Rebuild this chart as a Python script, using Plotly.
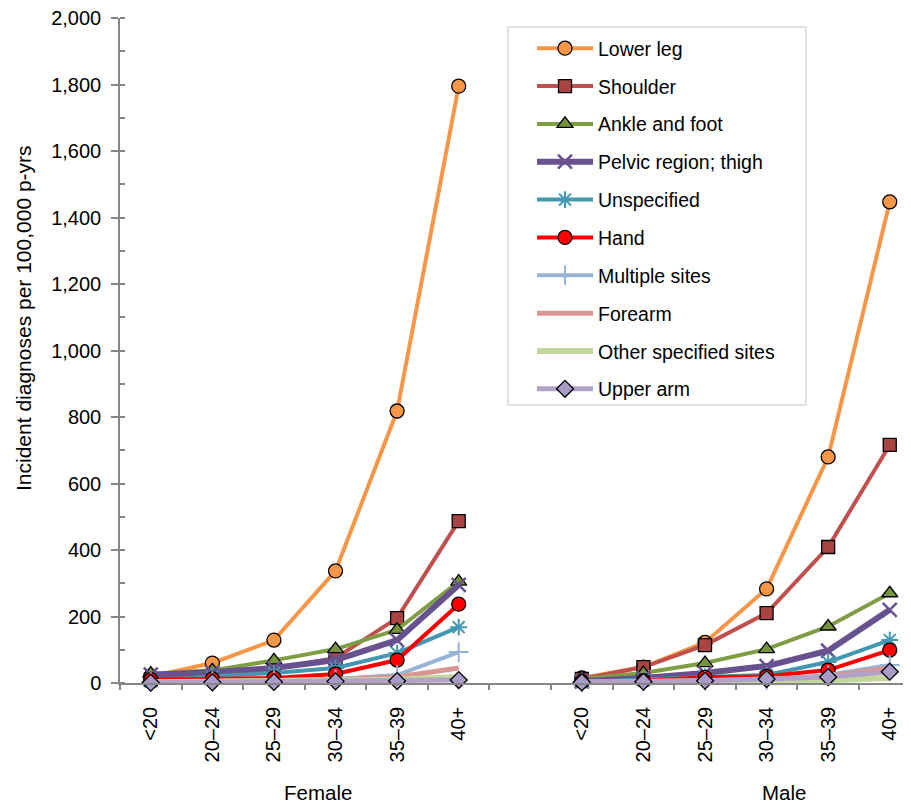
import plotly.graph_objects as go

age_groups = ["<20", "20\u201324", "25\u201329", "30\u201334", "35\u201339", "40+"]
sexes = ["Female", "Male"]

series_names = ["Lower leg", "Shoulder", "Ankle and foot", "Pelvic region; thigh",
                "Unspecified", "Hand", "Multiple sites", "Forearm",
                "Other specified sites", "Upper arm"]

female_lower_leg = [20, 60, 129, 337, 818, 1795]
female_shoulder = [10, 22, 42, 75, 195, 487]
female_ankle = [28, 38, 68, 102, 160, 305]
female_pelvic = [25, 32, 45, 69, 129, 295]
female_unspecified = [4, 20, 30, 45, 90, 168]
female_hand = [10, 12, 15, 27, 69, 237]
female_multiple = [3, 5, 8, 12, 24, 93]
female_forearm = [2, 4, 7, 10, 18, 45]
female_other = [2, 3, 4, 6, 10, 18]
female_upper_arm = [1, 2, 3, 5, 6, 9]

male_lower_leg = [15, 48, 122, 283, 680, 1447]
male_shoulder = [12, 48, 114, 210, 409, 716]
male_ankle = [12, 30, 60, 102, 170, 270]
male_pelvic = [5, 15, 30, 51, 97, 220]
male_unspecified = [3, 9, 18, 24, 63, 129]
male_hand = [4, 7, 17, 20, 39, 99]
male_multiple = [2, 4, 6, 9, 24, 54]
male_forearm = [2, 4, 6, 10, 20, 45]
male_other = [1, 2, 3, 5, 8, 15]
male_upper_arm = [2, 4, 7, 12, 18, 34]

female = [female_lower_leg, female_shoulder, female_ankle, female_pelvic, female_unspecified,
          female_hand, female_multiple, female_forearm, female_other, female_upper_arm]
male = [male_lower_leg, male_shoulder, male_ankle, male_pelvic, male_unspecified,
        male_hand, male_multiple, male_forearm, male_other, male_upper_arm]

line_colors = ["#F79646", "#C0504D", "#7F9E43", "#67518F", "#4298B0",
               "#FF0000", "#95B3D7", "#D99694", "#C3D69B", "#B3A2C7"]
line_widths = [4, 4, 4, 6, 4, 4, 4, 5, 6, 5]
markers = [
    dict(symbol="circle", size=14, color="#F79646", line=dict(color="black", width=1.3)),
    dict(symbol="square", size=13, color="#A84542", line=dict(color="black", width=1.3)),
    dict(symbol="triangle-up", size=14, color="#77933C", line=dict(color="black", width=1.3)),
    dict(symbol="x-thin-open", size=14, color="#67518F", line=dict(color="#67518F", width=2.5)),
    dict(symbol="asterisk-open", size=14, color="#4298B0", line=dict(color="#4298B0", width=2)),
    dict(symbol="circle", size=14, color="#FF0000", line=dict(color="black", width=1.3)),
    dict(symbol="cross-thin-open", size=14, color="#95B3D7", line=dict(color="#95B3D7", width=2)),
    None,
    None,
    dict(symbol="diamond", size=13, color="#A99BC8", line=dict(color="black", width=1.3)),
]

# x positions: female categories 0-5, an empty slot at 6, male categories 7-12
n = len(age_groups)
x_pos = list(range(n)) + [n] + [n + 1 + i for i in range(n)]
tick_text = age_groups + [""] + age_groups

fig = go.Figure()
for i, name in enumerate(series_names):
    y = female[i] + [None] + male[i]
    mode = "lines+markers" if markers[i] is not None else "lines"
    kw = dict(marker=markers[i]) if markers[i] is not None else {}
    fig.add_trace(go.Scatter(
        x=x_pos, y=y, name=name, mode=mode, connectgaps=False,
        line=dict(color=line_colors[i], width=line_widths[i]),
        legendgroup=name, cliponaxis=False, **kw))

# page body has an 8px margin; figure placed at (8, 8) in the window
OFF = 8
PL, PT, PW, PH = 120, 18, 791, 665  # plot area in window pixels
spacing = PW / 61.58


def px_x(wx):
    return (wx - PL) / PW


def px_y(wy):
    return 1 - (wy - PT) / PH


fig.update_layout(
    width=911 - OFF, height=806 - OFF,
    margin=dict(l=PL - OFF, r=0, t=PT - OFF, b=(806 - OFF) - (PT - OFF + PH)),
    paper_bgcolor="white", plot_bgcolor="white",
    font=dict(family="Liberation Sans, Arial, sans-serif", size=20, color="black"),
    showlegend=True,
    legend=dict(
        x=px_x(532), y=px_y(29), xanchor="left", yanchor="top",
        bgcolor="rgba(0,0,0,0)", borderwidth=0,
        font=dict(size=19.5, color="black"),
        itemwidth=56, tracegroupgap=9.5,
        itemclick=False, itemdoubleclick=False,
    ),
    xaxis=dict(
        range=[-0.5, -0.5 + spacing],
        tickmode="array", tickvals=x_pos, ticktext=tick_text,
        tickangle=-90, ticks="", ticklabelstandoff=14,
        showline=True, linecolor="#868686", linewidth=1.5,
        showgrid=False, zeroline=False,
        minor=dict(tick0=0.5, dtick=1, ticks="outside", ticklen=5,
                   tickcolor="#868686", tickwidth=1.5, showgrid=False),
        tickfont=dict(size=20),
    ),
    yaxis=dict(
        range=[0, 2000], tickmode="linear", tick0=0, dtick=200,
        tickformat=",d", ticks="outside", ticklen=7, tickcolor="#868686", tickwidth=1.5,
        ticklabelstandoff=6, ticklabeloverflow="allow",
        showline=True, linecolor="#868686", linewidth=1.5,
        showgrid=False, zeroline=False,
        minor=dict(dtick=100, ticks="inside", ticklen=5, tickcolor="#868686",
                   tickwidth=1.5, showgrid=False),
        tickfont=dict(size=20),
    ),
)

# legend frame
fig.add_shape(type="rect", xref="paper", yref="paper",
              x0=px_x(508), x1=px_x(806), y0=px_y(405), y1=px_y(27),
              fillcolor="white", line=dict(color="#D9D9D9", width=1.5), layer="above")

fig.add_annotation(text="Incident diagnoses per 100,000 p-yrs", textangle=-90,
                   xref="paper", yref="paper", x=px_x(23), y=px_y(318),
                   xanchor="center", yanchor="middle", showarrow=False,
                   font=dict(size=21))
fig.add_annotation(text=sexes[0], xref="x", yref="paper", x=(317 - 150) / 61.58,
                   y=px_y(792), xanchor="center", yanchor="middle",
                   showarrow=False, font=dict(size=20.5))
fig.add_annotation(text=sexes[1], xref="x", yref="paper", x=(783 - 150) / 61.58,
                   y=px_y(792), xanchor="center", yanchor="middle",
                   showarrow=False, font=dict(size=20.5))

fig.write_html("out.html")
